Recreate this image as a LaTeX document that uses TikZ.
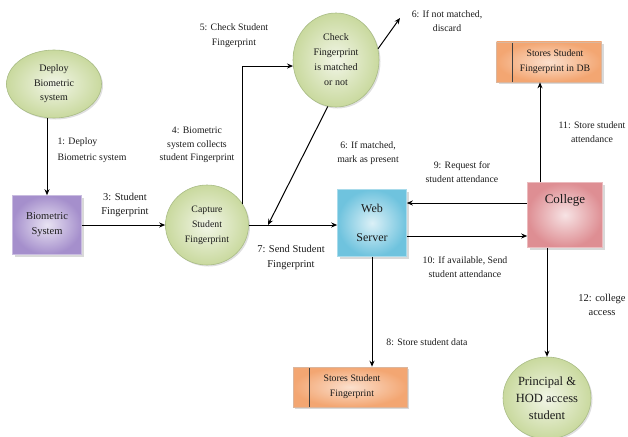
\documentclass[tikz,border=0pt]{standalone}
\usepackage{fontspec}
\setmainfont{Liberation Serif}
\usetikzlibrary{shapes.geometric, arrows.meta, positioning, shadows}
\definecolor{ovalgreen}{HTML}{C9D99E}
\definecolor{ovaledge}{HTML}{A9BC86}
\definecolor{biopurple}{HTML}{A58FCC}
\definecolor{webblue}{HTML}{6FC3DE}
\definecolor{collegered}{HTML}{DE8E93}
\definecolor{storeorange}{HTML}{F3A672}
\definecolor{textdark}{HTML}{1A1A1A}

\begin{document}
\begin{tikzpicture}[x=1pt, y=-1pt, font=\fontsize{9.8}{13.5}\selectfont, text=textdark]
    \tikzstyle{oval} = [ellipse, draw=ovaledge, line width=0.6pt, align=center, inner sep=0pt,
      inner color=ovalgreen!25!white, outer color=ovalgreen, drop shadow={opacity=0.25, shadow xshift=1.5pt, shadow yshift=-1.5pt}]
    \tikzstyle{block} = [rectangle, line width=0.6pt, align=center,
      drop shadow={opacity=0.3, shadow xshift=2pt, shadow yshift=-2pt}]
    \tikzstyle{store} = [block, minimum height=40pt, draw=storeorange!80!black!60, inner color=storeorange!35!white, outer color=storeorange,
      font=\fontsize{9.8}{15}\selectfont,
      path picture={\draw[line width=0.8pt, black!75] ([xshift=16pt]path picture bounding box.north west) -- ([xshift=16pt]path picture bounding box.south west);}]
    \tikzstyle{lbl} = [align=center, inner sep=0pt]
    \tikzstyle{arr} = [-{Stealth[length=6pt, width=5pt]}, line width=1pt, black]

    \useasboundingbox (0,0) rectangle (628,436);

    % processes
    \node (dep) [oval, minimum width=95pt, minimum height=68pt, font=\fontsize{10}{14.5}\selectfont] at (54,84) {Deploy\\Biometric\\system};
    \node (cap) [oval, minimum width=83pt, minimum height=80pt, font=\fontsize{9.8}{15}\selectfont] at (207,225) {Capture\\Student\\Fingerprint};
    \node (chk) [oval, minimum width=86pt, minimum height=94pt, font=\fontsize{10}{15}\selectfont] at (336,60) {Check\\Fingerprint\\is matched\\or not};
    \node (prn) [oval, minimum width=88pt, minimum height=82pt, font=\fontsize{12.5}{17}\selectfont] at (547,398) {Principal \&\\HOD access\\student};

    % entities
    \node (bio) [block, minimum width=69pt, minimum height=59pt, draw=biopurple!60, inner color=biopurple!25!white, outer color=biopurple,
      font=\fontsize{10.5}{15}\selectfont] at (47,225) {Biometric\\System};
    \node (web) [block, minimum width=69pt, minimum height=67pt, draw=webblue!60, inner color=webblue!25!white, outer color=webblue,
      font=\fontsize{12}{15}\selectfont] at (372,223) {Web\\[14pt]Server};
    \node (col) [block, minimum width=75pt, minimum height=65pt, draw=collegered!60, inner color=collegered!25!white, outer color=collegered,
      font=\fontsize{13}{16}\selectfont, text height=10pt, text depth=34pt, inner sep=0pt] at (565,215) {College};

    % data stores
    \node (sdb) [store, minimum width=105pt] at (549,62) {\hspace*{12pt}Stores Student\\\hspace*{12pt}Fingerprint in DB};
    \node (sst) [store, minimum width=114pt] at (350,387) {\hspace*{4pt}Stores Student\\\hspace*{4pt}Fingerprint};

    \coordinate (m7) at (268,225);
    \coordinate (dis) at (400,18);

    % flows
    \draw [arr] (dep.south -| bio.north) -- (bio.north);
    \draw [arr] (bio.east) -- (cap.west);
    \draw [arr] (cap.30) |- (chk.188);
    \draw [arr] (chk.15) -- (dis);
    \draw [arr] (chk.-100) -- (m7);
    \draw [arr] (cap.east) -- (cap.east -| web.west);
    \draw [arr] (web.south) -- (web.south |- sst.north);
    \draw [arr] ([yshift=12pt]col.west) -- ([yshift=12pt]col.west -| web.east);
    \draw [arr] ([yshift=-13pt]web.east) -- ([yshift=-13pt]web.east -| col.west);
    \draw [arr] ([xshift=-25pt]col.north) -- ([xshift=-25pt]col.north |- sdb.south);
    \draw [arr] (col.south -| prn.north) -- (prn.north);

    % flow labels
    \node (l1) [lbl, align=left, font=\fontsize{9.8}{16}\selectfont] at (92,150) {1: Deploy\\Biometric system};
    \node (l3) [lbl, font=\fontsize{10.5}{14}\selectfont] at (125,205) {3: Student\\Fingerprint};
    \node (l4) [lbl] at (197,145) {4: Biometric\\system collects\\student Fingerprint};
    \node (l5) [lbl, font=\fontsize{9.8}{15}\selectfont] at (234,36) {5: Check Student\\Fingerprint};
    \node (l6a) [lbl] at (447,21) {6: If not matched,\\discard};
    \node (l6b) [lbl] at (368,153) {6: If matched,\\mark as present};
    \node (l7) [lbl, font=\fontsize{10.5}{15}\selectfont] at (291,257) {7: Send Student\\Fingerprint};
    \node (l8) [lbl] at (427,342) {8: Store student data};
    \node (l9) [lbl] at (462,172) {9: Request for\\student attendance};
    \node (l10) [lbl] at (465,267) {10: If available, Send\\student attendance};
    \node (l11) [lbl] at (592,132) {11: Store student\\attendance};
    \node (l12) [lbl, font=\fontsize{10.5}{14}\selectfont] at (602,305) {12: college\\access};
\end{tikzpicture}
\end{document}
